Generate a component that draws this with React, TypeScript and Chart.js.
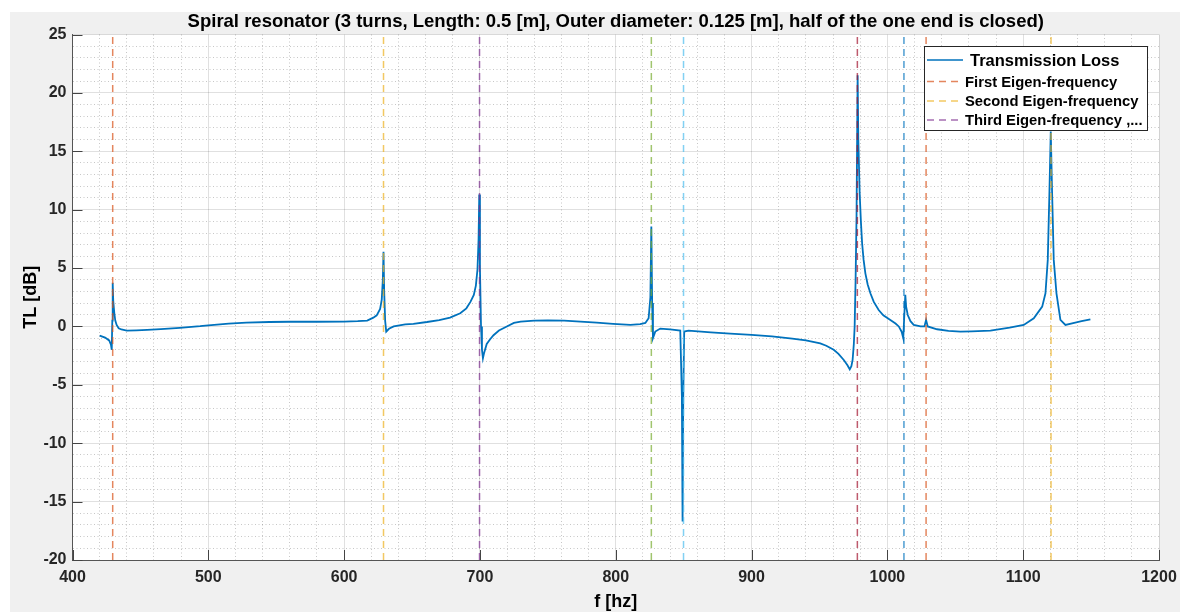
import React, { useEffect, useRef } from "react";
import { Chart, registerables } from "chart.js";

Chart.register(...registerables);

const TITLE =
  "Spiral resonator (3 turns, Length: 0.5 [m], Outer diameter: 0.125 [m], half of the one end is closed)";
const X_LABEL = "f [hz]";
const Y_LABEL = "TL [dB]";

const freq = [
  420, 424, 427, 428.3, 428.9, 429.3, 429.6, 430.0, 430.8, 431.5, 432.5, 434, 436, 440, 447, 455, 465, 479,
  494, 500, 515, 528, 545, 560, 580, 600, 610, 617, 621.5, 624, 626.5, 627.7, 628.5, 629, 629.5, 630.2, 631,
  633, 636.5, 645, 651, 661, 670, 678, 685.5, 690, 693, 695.5, 697, 698.2, 699.0, 699.5, 700.0, 700.8, 701.5,
  702.2, 703, 705, 707.5, 710, 714, 719.8, 725, 730, 740, 750, 762, 774, 786, 798, 810.8, 818, 821.8, 824.2,
  825.5, 826.2, 826.8, 827.4, 829.1, 832.8, 840, 847.5, 848.7, 849.2, 849.7, 850.4, 853.6, 870, 884.3, 900,
  915, 930, 940, 950.6, 955, 960.5, 964, 967.9, 970.5, 972.3, 973.5, 974.4, 975.3, 975.9, 976.6, 977.3, 978.1,
  978.6, 979.6, 980.5, 981.4, 982.5, 983.8, 985.5, 987.5, 990, 993.6, 997, 1002.2, 1006, 1008.4, 1010.5,
  1011.7, 1012.4, 1013.2, 1013.8, 1015, 1017, 1019.4, 1024.4, 1027.3, 1028.5, 1029.7, 1036.6, 1045, 1053.8,
  1062, 1075.9, 1090, 1100.4, 1107.8, 1114, 1116.4, 1118.1, 1119.3, 1120.3, 1121.3, 1122.5, 1124.5, 1127.4,
  1131.1, 1136, 1143, 1149.5,
];

const tl = [
  -0.79, -0.95, -1.2, -1.55, -2.0, 0.5, 3.75, 2.2, 1.13, 0.5, 0.13, -0.15, -0.26, -0.36, -0.34, -0.3, -0.23,
  -0.12, 0.02, 0.1, 0.24, 0.33, 0.38, 0.4, 0.4, 0.41, 0.45, 0.5, 0.75, 0.95, 1.5, 2.3, 4.0, 6.4, 3.0, 0.5,
  -0.45, -0.2, 0.0, 0.17, 0.22, 0.38, 0.55, 0.75, 1.13, 1.55, 2.1, 2.7, 3.5, 4.9, 7.5, 11.3, 5.0, 0.0, -2.0,
  -2.72, -2.3, -1.5, -1.1, -0.75, -0.35, 0.0, 0.3, 0.42, 0.5, 0.52, 0.5, 0.42, 0.33, 0.22, 0.13, 0.2, 0.3, 0.7,
  2.5, 8.55, 2.0, -1.0, -0.44, -0.18, -0.25, -0.35, -6, -16.7, -6, -0.44, -0.36, -0.5, -0.62, -0.72, -0.85,
  -1.05, -1.2, -1.45, -1.65, -2.0, -2.35, -2.87, -3.3, -3.67, -3.4, -2.87, -1.5, 0.0, 4.0, 9.5, 21.5, 16, 11.4,
  9.0, 7.12, 5.7, 4.55, 3.6, 2.84, 2.1, 1.41, 0.95, 0.56, 0.25, 0.0, -0.45, -1.0, 0.8, 2.7, 1.7, 0.98, 0.45,
  0.13, 0.0, 0.0, 0.56, 0.0, -0.24, -0.38, -0.44, -0.42, -0.36, -0.1, 0.13, 0.7, 1.7, 2.84, 5.7, 11.4, 16.7,
  11.4, 5.7, 2.84, 0.56, 0.13, 0.27, 0.45, 0.61,
];

const eigenFreqs = [429.6, 629, 699.7, 826.2, 849.9, 977.9, 1012.2, 1028.5, 1120.5];
const eigenColors = [
  "#D95319", "#EDB120", "#7E2F8E", "#77AC30", "#4DBEEE", "#A2142F", "#0072BD", "#D95319", "#EDB120",
];
const legendLabels = [
  "Transmission Loss",
  "First Eigen-frequency",
  "Second Eigen-frequency",
  "Third Eigen-frequency ,...",
];

const xMin = 400;
const xMax = 1200;
const yMin = -20;
const yMax = 25;
const xMajorStep = 100;
const xMinorStep = 20;
const yMajorStep = 5;
const yMinorStep = 1;

const LINE_BLUE = "#0072BD";
const DASH_ALPHA = 0.7;
const FONT = "'Liberation Sans', Arial, Helvetica, sans-serif";

function rgba(hex: string, a: number) {
  const r = parseInt(hex.slice(1, 3), 16);
  const g = parseInt(hex.slice(3, 5), 16);
  const b = parseInt(hex.slice(5, 7), 16);
  return `rgba(${r},${g},${b},${a})`;
}

function range(a: number, b: number, s: number) {
  const out: number[] = [];
  for (let v = a; v <= b + 1e-9; v += s) out.push(Math.round(v * 1000) / 1000);
  return out;
}

function isMult(v: number, m: number) {
  const r = Math.abs(v / m - Math.round(v / m));
  return r < 1e-6;
}

const decorPlugin = {
  id: "decor",
  beforeDraw(chart: any) {
    const { ctx, chartArea: a } = chart;
    ctx.save();
    ctx.fillStyle = "#f0f0f0";
    ctx.fillRect(0, 0, chart.width, chart.height);
    ctx.fillStyle = "#ffffff";
    ctx.fillRect(a.left, a.top, a.right - a.left, a.bottom - a.top);
    ctx.restore();
  },
  afterDraw(chart: any) {
    const { ctx, chartArea: a, scales } = chart;
    const xs = scales.x;
    const ys = scales.y;
    ctx.save();
    // inward tick marks
    ctx.strokeStyle = "#444";
    ctx.lineWidth = 1;
    ctx.beginPath();
    range(yMin, yMax, yMajorStep).forEach((v) => {
      const py = Math.round(ys.getPixelForValue(v)) + 0.5;
      ctx.moveTo(a.left, py);
      ctx.lineTo(a.left + 10, py);
    });
    range(xMin, xMax, xMajorStep).forEach((v) => {
      const px = Math.round(xs.getPixelForValue(v)) + 0.5;
      ctx.moveTo(px, a.bottom);
      ctx.lineTo(px, a.bottom - 10);
    });
    ctx.stroke();

    // title
    ctx.fillStyle = "#000";
    ctx.textAlign = "center";
    ctx.textBaseline = "alphabetic";
    ctx.font = `bold 18.5px ${FONT}`;
    ctx.fillText(TITLE, (a.left + a.right) / 2, 15);

    // axis titles
    ctx.font = `bold 18px ${FONT}`;
    ctx.fillText(X_LABEL, (a.left + a.right) / 2, 595);
    ctx.save();
    ctx.translate(26, (a.top + a.bottom) / 2);
    ctx.rotate(-Math.PI / 2);
    ctx.fillText(Y_LABEL, 0, 0);
    ctx.restore();

    // legend
    const lx = 914.5;
    const ly = 34.5;
    const lw = 223;
    const lh = 84;
    ctx.fillStyle = "#ffffff";
    ctx.fillRect(lx, ly, lw, lh);
    ctx.strokeStyle = "#262626";
    ctx.lineWidth = 1;
    ctx.strokeRect(lx, ly, lw, lh);
    const rows = [48, 69.5, 89, 108];
    ctx.textAlign = "left";
    ctx.textBaseline = "middle";
    legendLabels.forEach((lab, i) => {
      const y = rows[i];
      ctx.beginPath();
      if (i === 0) {
        ctx.setLineDash([]);
        ctx.strokeStyle = LINE_BLUE;
        ctx.lineWidth = 1.6;
      } else {
        ctx.setLineDash([7, 5]);
        ctx.strokeStyle = rgba(eigenColors[i - 1], DASH_ALPHA);
        ctx.lineWidth = 1.5;
      }
      ctx.moveTo(917, y);
      ctx.lineTo(953, y);
      ctx.stroke();
      ctx.setLineDash([]);
      ctx.fillStyle = "#000";
      if (i === 0) {
        ctx.font = `bold 16.5px ${FONT}`;
        ctx.fillText(lab, 960, y + 1);
      } else {
        ctx.font = `bold 14.8px ${FONT}`;
        ctx.fillText(lab, 955, y + 1);
      }
    });
    ctx.restore();
  },
};

export default function App() {
  const ref = useRef<HTMLCanvasElement | null>(null);

  useEffect(() => {
    if (!ref.current) return;
    const tlData = freq.map((f, i) => ({ x: f, y: tl[i] }));
    const eigenSets = eigenFreqs.map((f, i) => ({
      label: i < 3 ? legendLabels[i + 1] : "",
      data: [
        { x: f, y: yMin },
        { x: f, y: yMax },
      ],
      borderColor: rgba(eigenColors[i], DASH_ALPHA),
      borderWidth: 1.5,
      borderDash: [7, 5],
      pointRadius: 0,
      fill: false,
      order: 0,
    }));

    const gridColor = (major: boolean) => (major ? "rgba(0,0,0,0.12)" : "rgba(0,0,0,0.22)");

    const chart = new Chart(ref.current, {
      type: "line",
      data: {
        datasets: [
          {
            label: legendLabels[0],
            data: tlData,
            borderColor: LINE_BLUE,
            borderWidth: 1.8,
            pointRadius: 0,
            fill: false,
            tension: 0,
            order: 1,
          },
          ...eigenSets,
        ] as any,
      },
      options: {
        responsive: false,
        animation: false,
        devicePixelRatio: 1,
        layout: { padding: { left: 0, right: 21, top: 22.5, bottom: 0 } },
        plugins: {
          legend: { display: false },
          title: { display: false },
          tooltip: { enabled: false },
        },
        scales: {
          x: {
            type: "linear",
            min: xMin,
            max: xMax,
            afterBuildTicks: (s: any) => {
              s.ticks = range(xMin, xMax, xMinorStep).map((v) => ({ value: v }));
            },
            afterFit: (s: any) => {
              s.height = 52;
              s.paddingLeft = 0;
              s.paddingRight = 0;
            },
            ticks: {
              autoSkip: false,
              maxRotation: 0,
              padding: 8,
              color: "#262626",
              font: { family: FONT, size: 16, weight: "bold" },
              callback: (v: any) => (isMult(Number(v), xMajorStep) ? String(v) : ""),
            },
            grid: {
              drawTicks: false,
              lineWidth: 1,
              color: (c: any) => gridColor(c.tick ? isMult(c.tick.value, xMajorStep) : true),
            },
            border: {
              display: true,
              color: "#555",
              width: 1,
              dash: (c: any) => (c.tick && !isMult(c.tick.value, xMajorStep) ? [1, 2.5] : []),
            },
          },
          y: {
            type: "linear",
            min: yMin,
            max: yMax,
            afterBuildTicks: (s: any) => {
              s.ticks = range(yMin, yMax, yMinorStep).map((v) => ({ value: v }));
            },
            afterFit: (s: any) => {
              s.width = 62.5;
              s.paddingTop = 0;
              s.paddingBottom = 0;
            },
            ticks: {
              autoSkip: false,
              padding: 6,
              color: "#262626",
              font: { family: FONT, size: 16, weight: "bold" },
              callback: (v: any) => (isMult(Number(v), yMajorStep) ? String(v) : ""),
            },
            grid: {
              drawTicks: false,
              lineWidth: 1,
              color: (c: any) => gridColor(c.tick ? isMult(c.tick.value, yMajorStep) : true),
            },
            border: {
              display: true,
              color: "#555",
              width: 1,
              dash: (c: any) => (c.tick && !isMult(c.tick.value, yMajorStep) ? [1, 2.5] : []),
            },
          },
        },
      } as any,
      plugins: [decorPlugin],
    });
    return () => chart.destroy();
  }, []);

  return (
    <div style={{ position: "absolute", left: 10, top: 12, width: 1170, height: 600 }}>
      <canvas ref={ref} width={1170} height={600} style={{ display: "block" }} />
    </div>
  );
}
